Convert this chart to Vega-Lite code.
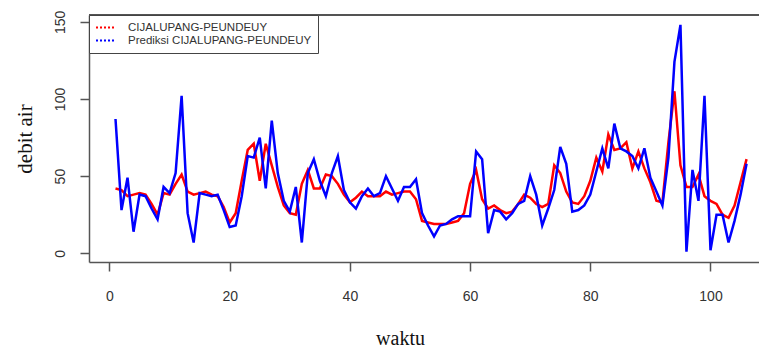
{
  "$schema": "https://vega.github.io/schema/vega-lite/v6.json",
  "width": 670,
  "height": 247,
  "autosize": "none",
  "padding": {"left": 89, "top": 15, "right": 0, "bottom": 88},
  "background": "white",
  "config": {"view": {"stroke": null}, "font": "Liberation Sans"},
  "data": {"values": [
    {"t":1,"obs":42,"pred":87},{"t":2,"obs":41,"pred":28},{"t":3,"obs":37,"pred":49},{"t":4,"obs":38,"pred":14},
    {"t":5,"obs":39,"pred":38},{"t":6,"obs":38,"pred":37},{"t":7,"obs":32,"pred":29},{"t":8,"obs":25,"pred":22},
    {"t":9,"obs":39,"pred":43},{"t":10,"obs":38,"pred":39},{"t":11,"obs":45,"pred":52},{"t":12,"obs":51,"pred":102},
    {"t":13,"obs":40,"pred":26},{"t":14,"obs":38,"pred":7},{"t":15,"obs":39,"pred":39},{"t":16,"obs":40,"pred":38},
    {"t":17,"obs":38,"pred":37},{"t":18,"obs":37,"pred":38},{"t":19,"obs":30,"pred":28},{"t":20,"obs":20,"pred":17},
    {"t":21,"obs":26,"pred":18},{"t":22,"obs":47,"pred":37},{"t":23,"obs":67,"pred":63},{"t":24,"obs":71,"pred":62},
    {"t":25,"obs":47,"pred":75},{"t":26,"obs":71,"pred":42},{"t":27,"obs":57,"pred":86},{"t":28,"obs":43,"pred":52},
    {"t":29,"obs":31,"pred":34},{"t":30,"obs":26,"pred":27},{"t":31,"obs":25,"pred":43},{"t":32,"obs":45,"pred":7},
    {"t":33,"obs":54,"pred":52},{"t":34,"obs":42,"pred":61},{"t":35,"obs":42,"pred":47},{"t":36,"obs":51,"pred":37},
    {"t":37,"obs":50,"pred":52},{"t":38,"obs":45,"pred":63},{"t":39,"obs":38,"pred":41},{"t":40,"obs":33,"pred":33},
    {"t":41,"obs":36,"pred":29},{"t":42,"obs":40,"pred":37},{"t":43,"obs":37,"pred":42},{"t":44,"obs":37,"pred":37},
    {"t":45,"obs":37,"pred":39},{"t":46,"obs":40,"pred":50},{"t":47,"obs":38,"pred":42},{"t":48,"obs":39,"pred":34},
    {"t":49,"obs":40,"pred":43},{"t":50,"obs":40,"pred":43},{"t":51,"obs":35,"pred":48},{"t":52,"obs":21,"pred":26},
    {"t":53,"obs":20,"pred":18},{"t":54,"obs":19,"pred":11},{"t":55,"obs":19,"pred":18},{"t":56,"obs":19,"pred":19},
    {"t":57,"obs":20,"pred":22},{"t":58,"obs":21,"pred":24},{"t":59,"obs":26,"pred":24},{"t":60,"obs":45,"pred":24},
    {"t":61,"obs":54,"pred":66},{"t":62,"obs":35,"pred":61},{"t":63,"obs":29,"pred":13},{"t":64,"obs":31,"pred":28},
    {"t":65,"obs":28,"pred":27},{"t":66,"obs":26,"pred":22},{"t":67,"obs":27,"pred":26},{"t":68,"obs":32,"pred":32},
    {"t":69,"obs":38,"pred":34},{"t":70,"obs":36,"pred":50},{"t":71,"obs":32,"pred":38},{"t":72,"obs":30,"pred":18},
    {"t":73,"obs":32,"pred":29},{"t":74,"obs":57,"pred":41},{"t":75,"obs":52,"pred":69},{"t":76,"obs":40,"pred":58},
    {"t":77,"obs":33,"pred":27},{"t":78,"obs":32,"pred":28},{"t":79,"obs":37,"pred":31},{"t":80,"obs":47,"pred":38},
    {"t":81,"obs":62,"pred":53},{"t":82,"obs":53,"pred":68},{"t":83,"obs":77,"pred":55},{"t":84,"obs":67,"pred":84},
    {"t":85,"obs":68,"pred":68},{"t":86,"obs":72,"pred":66},{"t":87,"obs":55,"pred":63},{"t":88,"obs":66,"pred":55},
    {"t":89,"obs":55,"pred":68},{"t":90,"obs":46,"pred":49},{"t":91,"obs":34,"pred":40},{"t":92,"obs":33,"pred":31},
    {"t":93,"obs":72,"pred":62},{"t":94,"obs":105,"pred":124},{"t":95,"obs":57,"pred":148},{"t":96,"obs":43,"pred":1},
    {"t":97,"obs":43,"pred":54},{"t":98,"obs":51,"pred":34},{"t":99,"obs":37,"pred":102},{"t":100,"obs":34,"pred":2},
    {"t":101,"obs":32,"pred":25},{"t":102,"obs":25,"pred":25},{"t":103,"obs":23,"pred":7},{"t":104,"obs":31,"pred":21},
    {"t":105,"obs":46,"pred":38},{"t":106,"obs":61,"pred":58}
  ]},
  "layer": [
    {
      "transform": [{"fold": ["obs", "pred"], "as": ["series", "value"]}],
      "mark": {"type": "line", "strokeWidth": 2.5, "clip": true},
      "encoding": {
        "x": {
          "field": "t", "type": "quantitative",
          "scale": {"domain": [-3.41, 108.07], "nice": false, "zero": false},
          "axis": {
            "values": [0, 20, 40, 60, 80, 100], "grid": false, "format": "d",
            "title": "waktu", "titleFont": "Liberation Serif", "titleFontSize": 20,
            "titleFontWeight": "normal", "titleColor": "#111",
            "titleX": 311, "titleY": 82, "titleBaseline": "alphabetic", "titleAlign": "center",
            "labelFont": "Liberation Sans", "labelFontSize": 14, "labelColor": "#333",
            "labelPadding": 18, "labelFlush": false,
            "tickSize": 9, "tickColor": "#555", "tickWidth": 1.5,
            "domainColor": "#555", "domainWidth": 1.5
          }
        },
        "y": {
          "field": "value", "type": "quantitative",
          "scale": {"domain": [-5.64, 154.4], "nice": false, "zero": false},
          "axis": {
            "values": [0, 50, 100, 150], "grid": false,
            "title": "debit air", "titleFont": "Liberation Serif", "titleFontSize": 21,
            "titleFontWeight": "normal", "titleColor": "#111",
            "titleX": -64, "titleY": 123.5, "titleAngle": -90, "titleAlign": "center", "titleBaseline": "middle",
            "labelFont": "Liberation Sans", "labelFontSize": 14, "labelColor": "#333",
            "labelAngle": -90, "labelAlign": "center", "labelBaseline": "bottom", "labelPadding": 13,
            "labelFlush": false,
            "tickSize": 9, "tickColor": "#555", "tickWidth": 1.5,
            "domainColor": "#555", "domainWidth": 1.5
          }
        },
        "color": {
          "field": "series", "type": "nominal",
          "scale": {"domain": ["obs", "pred"], "range": ["#ff0000", "#0000ff"]},
          "legend": {
            "title": null, "orient": "none", "legendX": 0, "legendY": 0,
            "labelExpr": "datum.value == 'obs' ? 'CIJALUPANG-PEUNDEUY' : 'Prediksi CIJALUPANG-PEUNDEUY'",
            "symbolType": "stroke", "symbolSize": 400, "symbolStrokeWidth": 2, "symbolDash": [2, 2],
            "clipHeight": 13, "rowPadding": 0, "labelOffset": 11, "labelLimit": 400,
            "labelFont": "Liberation Sans", "labelFontSize": 11.5, "labelColor": "#333",
            "padding": 6, "strokeColor": "#444", "fillColor": "white", "cornerRadius": 0
          }
        }
      }
    },
    {
      "mark": {"type": "rule", "color": "#555", "strokeWidth": 1.5},
      "encoding": {"y": {"datum": 154.4}}
    }
  ]
}
